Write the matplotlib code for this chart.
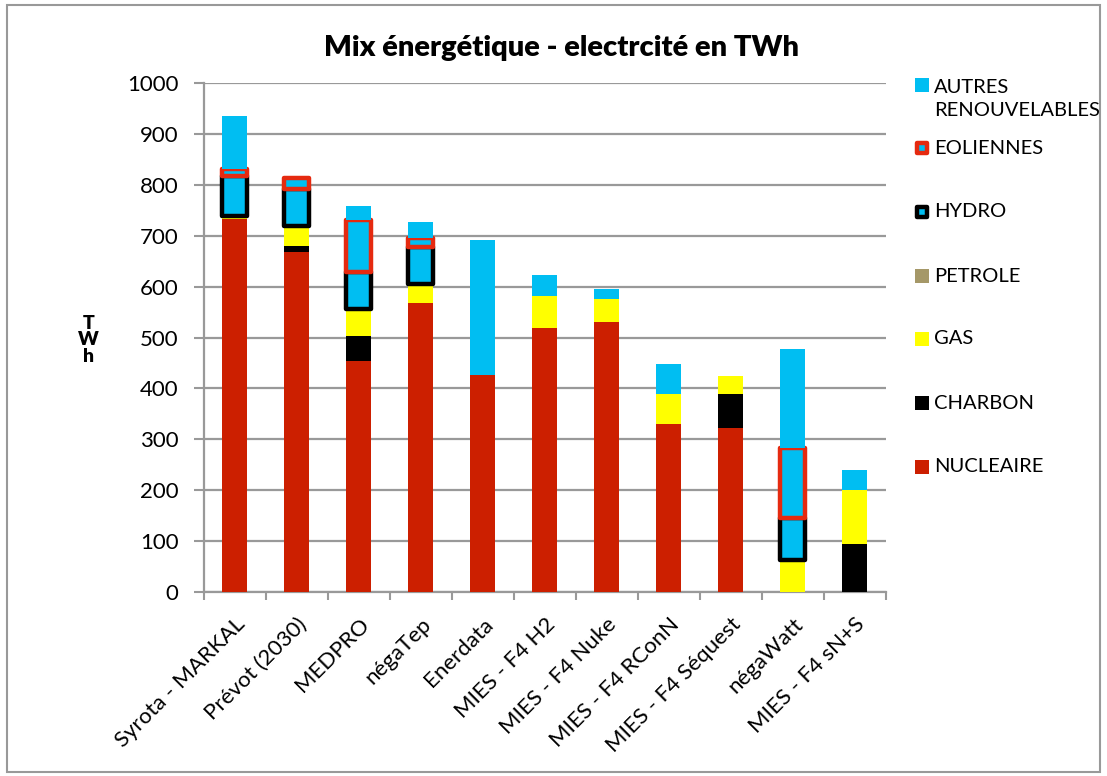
import numpy as np
import matplotlib
matplotlib.use("Agg")
from matplotlib import pyplot as plt
from matplotlib.patches import Rectangle

plt.rcParams['font.family'] = ['Lato', 'DejaVu Sans']

categories = ["Syrota - MARKAL", "Prévot (2030)", "MEDPRO", "négaTep", "Enerdata",
              "MIES - F4 H2", "MIES - F4 Nuke", "MIES - F4 RConN",
              "MIES - F4 Séquest", "négaWatt", "MIES - F4 sN+S"]

nucleaire = [732, 668, 454, 567, 426, 519, 531, 331, 322, 0, 0]
charbon = [0, 11, 49, 0, 0, 0, 0, 0, 68, 0, 94]
gas = [6, 41, 53, 38, 0, 62, 44, 59, 34, 63, 106]
petrole = [0, 0, 0, 0, 0, 0, 0, 0, 0, 0, 0]
hydro = [79, 71, 73, 73, 0, 0, 0, 0, 0, 82, 0]
eoliennes = [14, 22, 102, 18, 0, 0, 0, 0, 0, 139, 0]
autres = [104, 0, 28, 31, 266, 42, 20, 59, 0, 193, 40]

yticks = [0, 100, 200, 300, 400, 500, 600, 700, 800, 900, 1000]

BLUE = "#00BEF2"
RED = "#CC1F00"
EOL_RED = "#E52A10"
YELLOW = "#FFFF00"
TAN = "#A59868"

# series in stacking order: (values, label, face, edge)
series = [
    (nucleaire, "NUCLEAIRE", RED, None),
    (charbon, "CHARBON", "black", None),
    (gas, "GAS", YELLOW, None),
    (petrole, "PETROLE", TAN, None),
    (hydro, "HYDRO", BLUE, "black"),
    (eoliennes, "EOLIENNES", BLUE, EOL_RED),
    (autres, "AUTRES\nRENOUVELABLES", BLUE, None),
]

fig = plt.figure(figsize=(11.07, 7.76), dpi=100)
ax = fig.add_axes([0.184, 0.237, 0.616, 0.656])

x = np.arange(len(categories))
bottom = np.zeros(len(categories))
for i, (vals, label, face, edge) in enumerate(series):
    vals = np.array(vals, dtype=float)
    if edge is None:
        ax.bar(x, vals, 0.4, bottom=bottom, color=face, linewidth=0, zorder=3 + i)
    else:
        lw = np.where(vals > 0, 3.2, 0.0)
        ax.bar(x, vals, 0.4, bottom=bottom, color=face, edgecolor=edge,
               linewidth=lw, joinstyle="round", zorder=3 + i)
    bottom += vals

ax.set_xlim(-0.5, len(categories) - 0.5)
ax.set_ylim(0, 1000)
ax.set_yticks(yticks)
ax.tick_params(axis='y', labelsize=16, length=7, width=1.5, color="#999999", pad=11)
ax.set_xticks(x)
ax.set_xticklabels(categories, rotation=45, ha='right', rotation_mode='anchor', fontsize=16)
ax.tick_params(axis='x', which='major', length=0, pad=16)
ax.set_xticks(np.arange(len(categories) + 1) - 0.5, minor=True)
ax.tick_params(axis='x', which='minor', length=6, width=1.5, color="#999999")
ax.grid(axis='y', color="#999999", linewidth=1.6, zorder=0)
ax.set_axisbelow(True)
for side in ['top', 'right']:
    ax.spines[side].set_visible(False)
for side in ['left', 'bottom']:
    ax.spines[side].set_color("#999999")
    ax.spines[side].set_linewidth(1.6)

fig.text(0.507, 0.938, "Mix énergétique - electrcité en TWh", ha='center', va='center',
         fontsize=21, fontweight='heavy')
fig.text(0.080, 0.562, "T\nW\nh", ha='center', va='center', fontsize=14,
         fontweight='heavy', linespacing=0.95)

# legend, drawn top to bottom
leg_y = [85, 148, 212, 276, 339, 403, 467]
for (vals, label, face, edge), yp in zip(series[::-1], leg_y):
    w, h = 14 / 1107, 14 / 776
    cx, cy = 922 / 1107, 1 - yp / 776
    if edge is None:
        fig.patches.append(Rectangle((cx - w / 2, cy - h / 2), w, h, transform=fig.transFigure,
                                     facecolor=face, edgecolor='none'))
    else:
        fig.patches.append(Rectangle((cx - w / 2.7, cy - h / 2.7), w / 1.35, h / 1.35,
                                     transform=fig.transFigure, facecolor=face,
                                     edgecolor=edge, linewidth=3.2, joinstyle="round"))
    ty = cy
    if "\n" in label:
        ty = cy - 14 / 776
    fig.text(934 / 1107, ty, label, ha='left', va='center', fontsize=14.5, linespacing=1.4)

fig.patches.append(Rectangle((0.006, 0.005), 0.988, 0.989, transform=fig.transFigure,
                             facecolor='none', edgecolor="#999999", linewidth=1.5))

fig.savefig("out.png", dpi=100)
